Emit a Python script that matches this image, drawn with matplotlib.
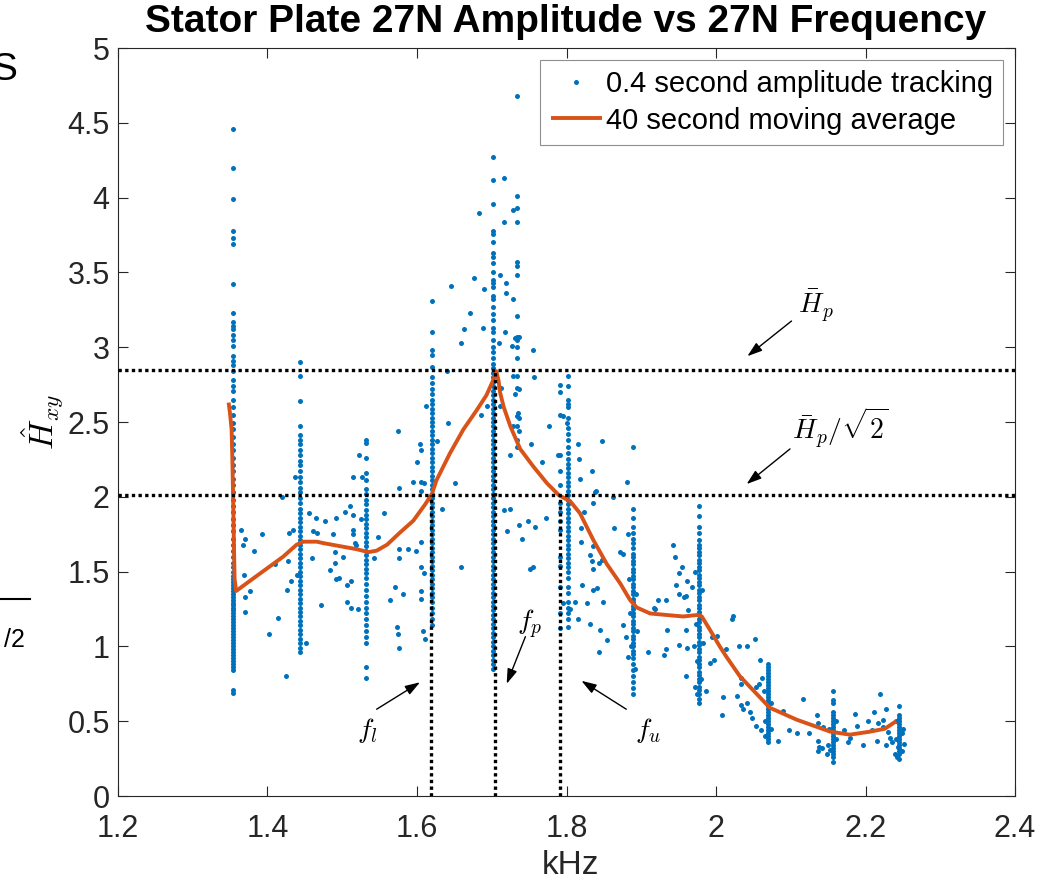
import matplotlib
matplotlib.use('Agg')
import matplotlib.pyplot as plt
from matplotlib.lines import Line2D

plt.rcParams['font.family'] = ['Liberation Sans', 'DejaVu Sans']
plt.rcParams['mathtext.fontset'] = 'cm'

# ---------------- data ----------------
title = 'Stator Plate 27N Amplitude vs 27N Frequency'
x_ticks = [1.2, 1.4, 1.6, 1.8, 2.0, 2.2, 2.4]
x_ticklabels = ['1.2', '1.4', '1.6', '1.8', '2', '2.2', '2.4']
y_ticks = [0, 0.5, 1, 1.5, 2, 2.5, 3, 3.5, 4, 4.5, 5]
y_ticklabels = ['0', '0.5', '1', '1.5', '2', '2.5', '3', '3.5', '4', '4.5', '5']

# vertical stripes of tracked amplitude (frequency held constant)
stripe_freqs = [1.354, 1.443, 1.532, 1.620, 1.702, 1.734, 1.802, 1.791,
                1.889, 1.977, 2.069, 2.156, 2.245]
s1354 = [4.46, 4.20, 3.99, 3.78, 3.73, 3.69, 3.42, 3.23, 3.17, 3.14, 3.12, 3.08,
         3.05, 3.01, 2.94, 2.91, 2.88, 2.84, 2.78, 2.74, 2.71, 2.65, 2.60, 2.55,
         2.49, 2.45, 2.40, 2.35, 2.31, 2.26, 2.21, 2.17, 2.12, 2.08, 2.03, 1.98,
         1.94, 1.90, 1.85, 1.81, 1.77, 1.72, 1.68, 1.64, 1.60, 1.56, 1.53, 1.50,
         1.47, 1.45, 1.43, 1.41, 1.39, 1.37, 1.35, 1.33, 1.31, 1.29, 1.28, 1.26,
         1.24, 1.22, 1.20, 1.18, 1.16, 1.14, 1.12, 1.10, 1.08, 1.06, 1.04, 1.02,
         1.00, 0.98, 0.96, 0.94, 0.92, 0.90, 0.88, 0.86, 0.84, 0.71, 0.69]
s1443 = [2.90, 2.81, 2.64, 2.47, 2.41, 2.38, 2.35, 2.31, 2.28, 2.24, 2.21, 2.17,
         2.13, 2.10, 2.06, 2.03, 1.99, 1.96, 1.92, 1.89, 1.86, 1.83, 1.80, 1.77,
         1.74, 1.71, 1.68, 1.65, 1.62, 1.59, 1.56, 1.53, 1.50, 1.47, 1.44, 1.41,
         1.38, 1.35, 1.32, 1.29, 1.26, 1.23, 1.20, 1.17, 1.14, 1.11, 1.08, 1.05,
         1.02, 0.99, 0.96]
s1532 = [2.38, 2.36, 2.26, 2.16, 2.11, 2.05, 2.02, 1.98, 1.95, 1.91, 1.88, 1.85,
         1.82, 1.79, 1.76, 1.73, 1.70, 1.67, 1.64, 1.61, 1.58, 1.55, 1.52, 1.49,
         1.46, 1.42, 1.38, 1.34, 1.30, 1.26, 1.22, 1.18, 1.14, 1.10, 1.06, 1.02,
         0.86, 0.79]
s1620 = [3.31, 3.10, 2.98, 2.95, 2.87, 2.80, 2.76, 2.72, 2.69, 2.65, 2.62, 2.59,
         2.56, 2.53, 2.50, 2.47, 2.44, 2.41, 2.38, 2.35, 2.32, 2.29, 2.26, 2.23,
         2.20, 2.17, 2.14, 2.11, 2.08, 2.05, 2.02, 1.99, 1.96, 1.93, 1.90, 1.87,
         1.84, 1.81, 1.78, 1.75, 1.72, 1.69, 1.66, 1.63, 1.60, 1.57, 1.54, 1.51,
         1.48, 1.45, 1.42, 1.39, 1.36, 1.33, 1.30, 1.26, 1.22, 1.18, 1.14]
s1702 = [4.27, 4.12, 3.96, 3.78, 3.76, 3.70, 3.63, 3.60, 3.56, 3.50, 3.45, 3.43,
         3.40, 3.34, 3.32, 3.27, 3.22, 3.18, 3.13, 3.10, 3.05, 3.00, 2.97, 2.93,
         2.89, 2.86, 2.83, 2.80, 2.77, 2.74, 2.71, 2.68, 2.65, 2.62, 2.59, 2.56,
         2.53, 2.50, 2.47, 2.44, 2.41, 2.38, 2.35, 2.32, 2.29, 2.26, 2.23, 2.20,
         2.17, 2.14, 2.11, 2.08, 2.05, 2.02, 1.99, 1.96, 1.93, 1.90, 1.87, 1.84,
         1.81, 1.78, 1.75, 1.72, 1.69, 1.66, 1.63, 1.60, 1.57, 1.54, 1.51, 1.48,
         1.45, 1.42, 1.39, 1.36, 1.33, 1.30, 1.27, 1.24, 1.21, 1.18, 1.15, 1.12,
         1.09, 1.06, 1.03, 1.00, 0.97, 0.94, 0.91, 0.88, 0.85]
s1734 = [4.68, 4.01, 3.93, 3.84, 3.57, 3.54, 3.48, 3.21, 3.07, 3.05, 3.00, 2.93,
         2.81, 2.73, 2.54, 2.47, 2.38, 2.33]
s1802 = [2.81, 2.74, 2.65, 2.62, 2.60, 2.53, 2.46, 2.42, 2.38, 2.33, 2.29, 2.25,
         2.22, 2.19, 2.16, 2.13, 2.10, 2.07, 2.04, 2.01, 1.98, 1.95, 1.92, 1.89,
         1.86, 1.83, 1.80, 1.77, 1.74, 1.71, 1.68, 1.65, 1.62, 1.59, 1.56, 1.53,
         1.50, 1.46, 1.40, 1.36, 1.30, 1.26, 1.22, 1.18, 1.13]
s1791 = [2.75, 2.70, 2.55, 2.28, 2.17, 2.08, 1.96, 1.90, 1.84, 1.78, 1.60, 1.54,
         1.40, 1.22, 1.12]
s1889 = [2.33, 1.92, 1.86, 1.80, 1.76, 1.72, 1.69, 1.66, 1.62, 1.60, 1.57, 1.55,
         1.52, 1.50, 1.47, 1.45, 1.42, 1.40, 1.37, 1.35, 1.32, 1.30, 1.27, 1.25,
         1.22, 1.20, 1.17, 1.15, 1.12, 1.10, 1.07, 1.05, 1.02, 1.00, 0.97, 0.95,
         0.92, 0.88, 0.84, 0.80, 0.76, 0.72, 0.68]
s1977 = [1.94, 1.87, 1.80, 1.76, 1.71, 1.68, 1.66, 1.63, 1.61, 1.58, 1.56, 1.53,
         1.51, 1.48, 1.46, 1.43, 1.41, 1.38, 1.36, 1.33, 1.31, 1.28, 1.26, 1.23,
         1.21, 1.18, 1.16, 1.13, 1.11, 1.08, 1.06, 1.03, 1.01, 0.98, 0.96, 0.93,
         0.91, 0.88, 0.86, 0.83, 0.81, 0.78, 0.76, 0.73, 0.71, 0.68, 0.65, 0.62]
s2069 = [0.88, 0.86, 0.84, 0.82, 0.80, 0.78, 0.76, 0.74, 0.72, 0.70, 0.68, 0.66,
         0.64, 0.62, 0.60, 0.58, 0.56, 0.54, 0.52, 0.50, 0.48, 0.46, 0.44, 0.42,
         0.40, 0.38, 0.36]
s2156 = [0.70, 0.64, 0.62, 0.56, 0.54, 0.52, 0.50, 0.48, 0.46, 0.44, 0.42, 0.40,
         0.38, 0.36, 0.34, 0.32, 0.30, 0.28, 0.26, 0.23]
s2245 = [0.60, 0.54, 0.52, 0.50, 0.48, 0.46, 0.44, 0.42, 0.40, 0.38, 0.36, 0.34,
         0.32, 0.30, 0.28, 0.25]
stripe_amps = [s1354, s1443, s1532, s1620, s1702, s1734, s1802, s1791,
               s1889, s1977, s2069, s2156, s2245]

# scattered tracking points between the stripes (kHz, amplitude)
loose_points = [
    (1.364, 1.78), (1.370, 1.72), (1.367, 1.68), (1.382, 1.64), (1.392, 1.75),
    (1.369, 1.48), (1.376, 1.37), (1.370, 1.33), (1.370, 1.23), (1.402, 1.08),
    (1.414, 1.19), (1.425, 0.80), (1.426, 1.38), (1.427, 1.57), (1.410, 1.55),
    (1.429, 1.76), (1.434, 1.78), (1.432, 1.44), (1.437, 2.13), (1.420, 2.00),
    (1.439, 1.48), (1.452, 1.02), (1.455, 1.89), (1.461, 1.77), (1.465, 1.86),
    (1.466, 1.76), (1.459, 1.59), (1.472, 1.28), (1.477, 1.84), (1.488, 1.75),
    (1.492, 1.86), (1.490, 1.63), (1.490, 1.56), (1.501, 1.60), (1.484, 1.51),
    (1.492, 1.45), (1.496, 1.46), (1.504, 1.90), (1.510, 1.94), (1.514, 2.13),
    (1.515, 1.88), (1.514, 1.78), (1.514, 1.75), (1.507, 1.41), (1.512, 1.44),
    (1.506, 1.30), (1.512, 1.26), (1.521, 1.25), (1.523, 2.28), (1.527, 2.13),
    (1.517, 1.69), (1.519, 1.68), (1.525, 1.85), (1.543, 1.59), (1.548, 1.73),
    (1.556, 1.89), (1.564, 1.31), (1.571, 1.40), (1.575, 2.44), (1.573, 1.13),
    (1.575, 1.08), (1.576, 1.65), (1.576, 1.59), (1.576, 2.06), (1.581, 1.35),
    (1.576, 0.99),
    (1.588, 1.65), (1.598, 1.64), (1.605, 1.70), (1.606, 1.53), (1.609, 1.49),
    (1.606, 1.37), (1.605, 1.32), (1.608, 1.10), (1.611, 1.05), (1.594, 2.10),
    (1.605, 2.10), (1.609, 2.09), (1.605, 2.04), (1.604, 2.35), (1.606, 2.31),
    (1.600, 2.23), (1.612, 2.61), (1.627, 2.37), (1.633, 1.92), (1.651, 2.09),
    (1.659, 1.53), (1.640, 2.84), (1.642, 2.49), (1.646, 3.41), (1.663, 3.12),
    (1.659, 3.03), (1.671, 3.23), (1.676, 3.46), (1.683, 3.90), (1.688, 3.13),
    (1.689, 3.39), (1.685, 2.55), (1.694, 2.61),
    (1.719, 3.43), (1.719, 3.36), (1.729, 3.32), (1.717, 4.13), (1.711, 3.48),
    (1.716, 3.84), (1.718, 3.10), (1.710, 3.03), (1.727, 3.01), (1.731, 3.06),
    (1.755, 2.98), (1.729, 2.81), (1.757, 2.80), (1.711, 2.61), (1.731, 2.69),
    (1.713, 2.73), (1.737, 2.72), (1.735, 2.56), (1.737, 2.53), (1.729, 2.47),
    (1.737, 2.44), (1.777, 2.47), (1.795, 2.54), (1.800, 2.49), (1.725, 2.28),
    (1.753, 2.35), (1.767, 2.23), (1.717, 1.91), (1.725, 1.92), (1.737, 1.81),
    (1.749, 1.84), (1.758, 1.80), (1.721, 1.77), (1.741, 1.72), (1.773, 1.86),
    (1.751, 1.52), (1.755, 1.53), (1.729, 3.92), (1.737, 3.07),
    (1.821, 1.41), (1.834, 2.17), (1.838, 2.03), (1.835, 1.96), (1.836, 1.67),
    (1.834, 1.57), (1.835, 1.38), (1.789, 2.28), (1.815, 2.35), (1.817, 2.25),
    (1.818, 2.12), (1.847, 2.37), (1.839, 2.04), (1.823, 1.90), (1.819, 1.79),
    (1.819, 1.70), (1.831, 1.61), (1.835, 1.52), (1.844, 1.56), (1.847, 1.58),
    (1.841, 1.39), (1.827, 1.29), (1.849, 1.30), (1.845, 1.11), (1.854, 1.04),
    (1.844, 0.96), (1.816, 1.18), (1.795, 1.29), (1.805, 1.25), (1.812, 1.30),
    (1.832, 1.15),
    (1.864, 1.79), (1.872, 1.63), (1.876, 1.62), (1.882, 1.75), (1.881, 2.10),
    (1.862, 2.00), (1.875, 1.14), (1.879, 1.06), (1.882, 0.93), (1.909, 0.96),
    (1.918, 1.25), (1.923, 1.31), (1.933, 1.31), (1.933, 0.98), (1.942, 1.68),
    (1.947, 1.41), (1.950, 1.35), (1.950, 1.49), (1.957, 1.33), (1.961, 1.44),
    (1.960, 1.34), (1.962, 1.24), (1.968, 1.40), (1.951, 1.01), (1.961, 0.99),
    (1.970, 1.00), (1.994, 1.06), (2.001, 1.07), (1.997, 0.91), (2.014, 0.98),
    (2.023, 1.20), (2.021, 1.18), (1.960, 1.11), (1.935, 1.11), (1.930, 0.94),
    (1.960, 0.80), (1.972, 0.73), (1.974, 0.68), (1.987, 0.70), (1.992, 0.89),
    (2.009, 0.66), (2.008, 0.54), (1.955, 1.53), (1.945, 1.60), (1.917, 1.26),
    (1.884, 1.45), (1.893, 1.35), (1.885, 1.22), (1.894, 1.10), (1.886, 1.00),
    (1.892, 0.85), (1.972, 1.50), (1.981, 1.38), (1.973, 1.15), (1.982, 1.02),
    (1.974, 0.90), (1.980, 0.78),
    (2.031, 1.00), (2.041, 1.00), (2.052, 1.05), (2.059, 0.91), (2.033, 0.79),
    (2.034, 0.75), (2.028, 0.67), (2.033, 0.61), (2.036, 0.58), (2.041, 0.62),
    (2.045, 0.56), (2.048, 0.52), (2.054, 0.73), (2.057, 0.75), (2.054, 0.47),
    (2.060, 0.44), (2.061, 0.79), (2.090, 0.57), (2.083, 0.37), (2.098, 0.44),
    (2.108, 0.42), (2.116, 0.65), (2.125, 0.42), (2.135, 0.54), (2.137, 0.49),
    (2.143, 0.46), (2.137, 0.37), (2.138, 0.33), (2.137, 0.30), (2.142, 0.32),
    (2.150, 0.34), (2.149, 0.28), (2.171, 0.44), (2.176, 0.36), (2.179, 0.39),
    (2.186, 0.55), (2.188, 0.47), (2.196, 0.34), (2.203, 0.50), (2.209, 0.44),
    (2.212, 0.56), (2.216, 0.37), (2.220, 0.68), (2.217, 0.49), (2.223, 0.51),
    (2.228, 0.58), (2.224, 0.46), (2.230, 0.43), (2.228, 0.34), (2.233, 0.39),
    (2.239, 0.28), (2.242, 0.26), (2.236, 0.36), (2.250, 0.45), (2.251, 0.35),
    (2.064, 0.70), (2.073, 0.62), (2.065, 0.50), (2.074, 0.45), (2.066, 0.40),
    (2.151, 0.45), (2.160, 0.38), (2.152, 0.31), (2.160, 0.50),
    (2.241, 0.50), (2.249, 0.42), (2.241, 0.38), (2.249, 0.30), (2.243, 0.33),
]

# 40 second moving average
avg_khz = [1.348, 1.350, 1.352, 1.353, 1.354, 1.355, 1.356, 1.358, 1.377, 1.399,
           1.421, 1.439, 1.448, 1.466, 1.475, 1.497, 1.519, 1.535, 1.546, 1.560,
           1.577, 1.595, 1.611, 1.620, 1.626, 1.644, 1.662, 1.680, 1.693, 1.702,
           1.706, 1.709, 1.711, 1.716, 1.725, 1.738, 1.756, 1.774, 1.790, 1.805,
           1.818, 1.836, 1.854, 1.872, 1.885, 1.894, 1.912, 1.934, 1.956, 1.975,
           1.981, 1.992, 2.005, 2.014, 2.032, 2.072, 2.108, 2.153, 2.179, 2.206,
           2.226, 2.241]
avg_amp = [2.63, 2.55, 2.45, 2.25, 2.00, 1.70, 1.45, 1.37, 1.44, 1.52,
           1.60, 1.68, 1.70, 1.70, 1.69, 1.67, 1.65, 1.63, 1.64, 1.68,
           1.76, 1.84, 1.95, 2.02, 2.11, 2.29, 2.45, 2.58, 2.68, 2.78,
           2.84, 2.78, 2.70, 2.60, 2.47, 2.32, 2.20, 2.09, 2.01, 1.97,
           1.89, 1.71, 1.55, 1.42, 1.31, 1.26, 1.22, 1.21, 1.20, 1.21,
           1.20, 1.11, 1.00, 0.93, 0.80, 0.59, 0.51, 0.43, 0.41, 0.43,
           0.45, 0.50]

h_peak = 2.85          # \bar H_p
h_half = 2.015         # \bar H_p / sqrt(2)
f_low, f_peak, f_up = 1.619, 1.705, 1.791

# ---------------- drawing ----------------
blue = '#0072BD'
orange = '#D95319'
axcol = '#262626'

fig = plt.figure(figsize=(10.42, 8.86), dpi=100)
ax = fig.add_axes([118 / 1042, 90 / 886, 897 / 1042, 748 / 886])

pts_x, pts_y = [], []
for fx, amps in zip(stripe_freqs, stripe_amps):
    pts_x += [fx] * len(amps)
    pts_y += amps
pts_x += [p[0] for p in loose_points]
pts_y += [p[1] for p in loose_points]

ax.plot(pts_x, pts_y, linestyle='none', marker='o', ms=3.6, mew=0,
        color=blue, label='0.4 second amplitude tracking', zorder=2)
ax.plot(avg_khz, avg_amp, color=orange, lw=2.8, solid_capstyle='butt',
        solid_joinstyle='round', label='40 second moving average', zorder=3)

dot = dict(color='black', lw=2.4, dashes=(1, 1), dash_capstyle='butt', zorder=4)
ax.axhline(h_peak, **dot)
ax.axhline(h_half, **dot)
ax.plot([f_low, f_low], [0, h_half], **dot)
ax.plot([f_peak, f_peak], [0, h_peak], **dot)
ax.plot([f_up, f_up], [0, h_half], **dot)

ax.set_xlim(1.2, 2.4)
ax.set_ylim(0, 5)
ax.set_xticks(x_ticks)
ax.set_xticklabels(x_ticklabels)
ax.set_yticks(y_ticks)
ax.set_yticklabels(y_ticklabels)
ax.tick_params(direction='in', length=7, width=0.8, colors=axcol,
               labelsize=22, top=True, right=True)
ax.tick_params(axis='x', pad=13)
ax.tick_params(axis='y', pad=6)
for s in ax.spines.values():
    s.set_color(axcol)
    s.set_linewidth(0.8)

arrow = dict(arrowstyle='-|>,head_length=0.9,head_width=0.3', lw=1.0,
             color='black', shrinkA=0, shrinkB=0)
ann = [
    (r'$\bar{H}_p$', (2.134, 3.28), (2.101, 3.175), (2.042, 2.94)),
    (r'$\bar{H}_p/\sqrt{2}$', (2.167, 2.46), (2.099, 2.32), (2.041, 2.085)),
    (r'$f_l$', (1.533, 0.44), (1.546, 0.58), (1.604, 0.76)),
    (r'$f_p$', (1.750, 1.15), (1.745, 1.065), (1.720, 0.75)),
    (r'$f_u$', (1.909, 0.44), (1.880, 0.58), (1.820, 0.77)),
]
for txt, tpos, tail, head in ann:
    ax.annotate('', xy=head, xytext=tail, arrowprops=arrow, zorder=5)
    ax.text(tpos[0], tpos[1], txt, fontsize=20, ha='center', va='center', zorder=5)

leg = ax.legend(loc='upper right', fontsize=21, frameon=True, fancybox=False,
                edgecolor='0.45', borderaxespad=0.4, handlelength=1.75,
                handletextpad=0.15, borderpad=0.35, labelspacing=0.3,
                markerscale=1.0)
leg.get_frame().set_linewidth(0.8)

fig.text(566 / 1042, 1 - 22 / 886, title, fontsize=28, weight='bold',
         ha='center', va='center')
fig.text(570 / 1042, 1 - 866 / 886, 'kHz', fontsize=24, color=axcol,
         ha='center', va='center')
fig.text(42 / 1042, 1 - 422 / 886, r'$\hat{H}_{xy}$', fontsize=24,
         rotation=90, ha='center', va='center')

# fragments of a neighbouring panel cut by the left edge
fig.text(17 / 1042, 1 - 70 / 886, 'S', fontsize=28, ha='right', va='center')
fig.add_artist(Line2D([0, 30 / 1042], [1 - 599 / 886] * 2, color='black', lw=1.5))
fig.text(25 / 1042, 1 - 640 / 886, '/2', fontsize=18, ha='right', va='center')

fig.savefig('out.png', dpi=100)
